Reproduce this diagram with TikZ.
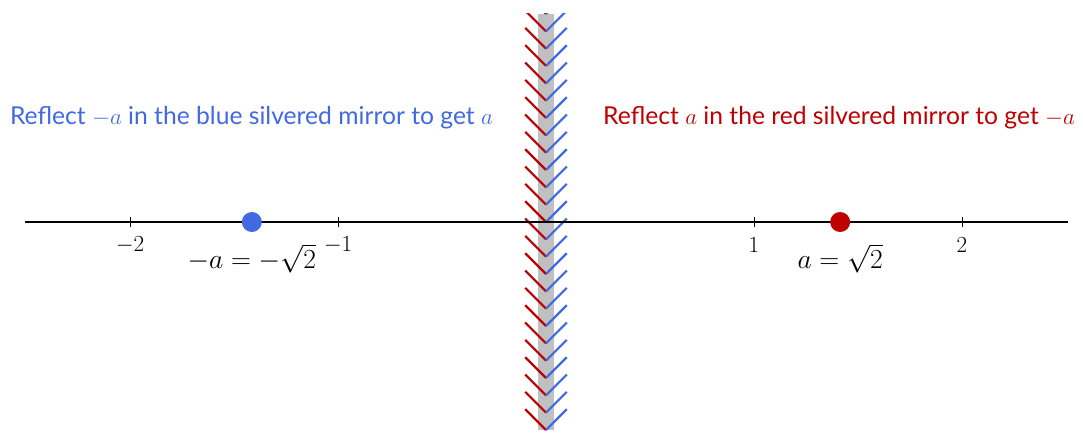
\documentclass[tikz,border=0pt]{standalone}
\usepackage{fontspec}
\setmainfont{Lato}
\usetikzlibrary{positioning}

\definecolor{mirrorblue}{RGB}{65,105,225}
\definecolor{mirrorred}{RGB}{190,0,0}
\definecolor{glass}{RGB}{192,192,192}

\begin{document}
\begin{tikzpicture}[x=156pt,y=156pt,
    axis/.style={line width=2pt},
    tickmark/.style={line width=0.7pt},
    ticklabel/.style={font=\fontsize{17.5}{20}\selectfont},
    hatchred/.style={mirrorred, line width=1.6pt},
    hatchblue/.style={mirrorblue, line width=1.6pt},
    dot/.style={circle, inner sep=0pt, minimum size=15pt},
    valuelabel/.style={font=\fontsize{22}{26}\selectfont},
    caption/.style={font=\fontsize{18.5}{22}\selectfont}]
    \useasboundingbox (-2.625,-1.0144) rectangle (2.5817,1.0673);

    % Draw the mirror
    \fill[glass] (-0.0385,-1) rectangle (0.0385,1);
    \begin{scope}
        \clip (-0.15,-1) rectangle (0.15,1);
        \foreach \k in {-12,...,12} {
            \coordinate (m\k) at (0,\k/12);
            \draw[hatchred] (m\k) -- ++(-0.1,0.1);
            \draw[hatchblue] (m\k) -- ++(0.1,0.1);
        }
    \end{scope}

    % Draw the number line
    \coordinate (L) at (-2.505,0);
    \coordinate (R) at (2.51,0);
    \draw[axis] (L) -- (R);

    % Ticks and their labels
    \foreach \x/\lab in {-2/-2,-1/-1,1/1,2/2} {
        \draw[tickmark] (\x,-0.024) -- (\x,0.024);
        \node[ticklabel] (t\x) at (\x,-0.11) {$\lab$};
    }

    % The two points
    \node[dot, fill=mirrorblue] (nega) at (-1.4142,0) {};
    \node[dot, fill=mirrorred] (a) at (1.4142,0) {};
    \node[valuelabel] (negalabel) at (-1.4142,-0.175) {$-a=-\sqrt{2}$};
    \node[valuelabel] (alabel) at (1.4142,-0.175) {$a=\sqrt{2}$};

    % Captions
    \node[caption, mirrorblue] (bluecap) at (-1.416,0.5) {Reflect $-a$ in the blue silvered mirror to get $a$};
    \node[caption, mirrorred] (redcap) at (1.409,0.5) {Reflect $a$ in the red silvered mirror to get $-a$};
\end{tikzpicture}
\end{document}
